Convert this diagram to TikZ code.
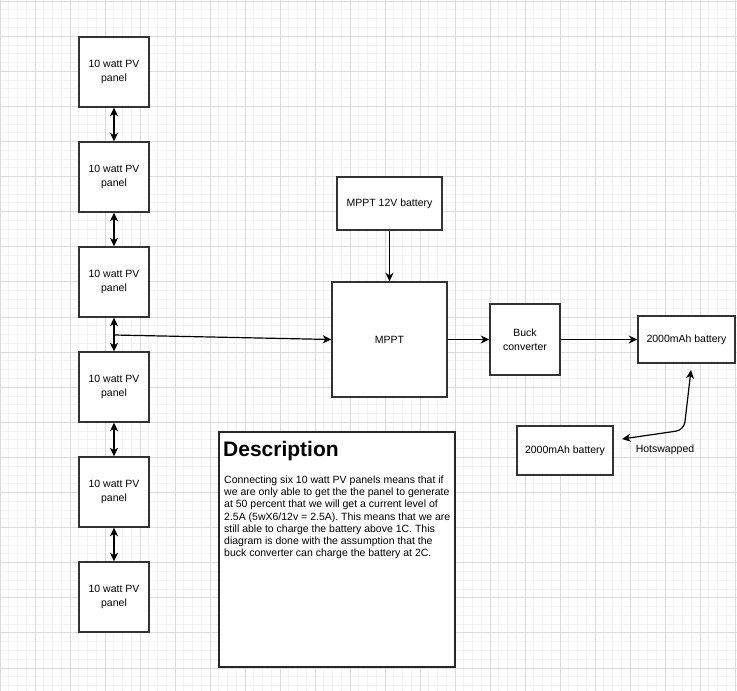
\documentclass[tikz,border=0pt]{standalone}
\usepackage{fontspec}
\setmainfont{Liberation Sans}
\usetikzlibrary{arrows.meta}
\definecolor{gridminor}{HTML}{F3F3F3}
\definecolor{gridmajor}{HTML}{DADADA}
\definecolor{edge}{HTML}{333333}
\begin{document}
\begin{tikzpicture}[x=1pt,y=-1pt,
  box/.style={draw=edge, line width=1.4pt, fill=white, inner sep=1pt, align=center,
    font=\fontsize{10.5}{13.5}\selectfont},
  tip/.tip={Stealth[length=8.5pt,width=8pt,inset=2.5pt]},
  link/.style={draw=black, line width=1.2pt, -tip},
  biline/.style={draw=black, line width=1.2pt, tip-tip},
  minorline/.style={draw=gridminor, line width=0.7pt},
  majorline/.style={draw=gridmajor, line width=0.7pt}]
\useasboundingbox (0,0) rectangle (737,691);
\fill[white] (0,0) rectangle (737,691);
% background grid
\foreach \i in {0,...,84} {\draw[minorline] (\i*8.75,0) -- (\i*8.75,691);}
\foreach \j in {0,...,78} {\draw[minorline] (0,1+\j*8.775) -- (737,1+\j*8.775);}
\foreach \i in {0,...,21} {\draw[majorline] (\i*35,0) -- (\i*35,691);}
\foreach \j in {0,...,19} {\draw[majorline] (0,1+\j*35.1) -- (737,1+\j*35.1);}

% solar panel column
\foreach \n/\y in {1/72,2/177,3/282,4/387,5/492,6/597}
  \node[box, minimum width=70pt, minimum height=70pt] (p\n) at (114,\y) {10 watt PV\\panel};

\node[box, minimum width=105pt, minimum height=53pt] (mppt12) at (389.5,203.5) {MPPT 12V battery};
\node[box, minimum width=115pt, minimum height=115pt] (mppt) at (389.5,339.5) {MPPT};
\node[box, minimum width=70pt, minimum height=71pt] (buck) at (525,339.5) {Buck\\converter};
\node[box, minimum width=97pt, minimum height=47pt] (bat) at (686.5,339.5) {2000mAh battery};
\node[box, minimum width=96pt, minimum height=49pt] (bat2) at (565,450.5) {2000mAh battery};
\node[font=\fontsize{10.5}{13.5}\selectfont, inner sep=0pt] (hs) at (665,450) {Hotswapped};

% description panel
\node[draw=black!85, line width=1.4pt, fill=white, minimum width=236pt, minimum height=235pt] (desc) at (337,549.5) {};
\node[anchor=base west, inner sep=0pt, font=\fontsize{21}{25}\selectfont\bfseries] (dtitle) at (223,456) {Description};
\node[anchor=north west, inner sep=0pt, align=left, font=\fontsize{10.5}{12.23}\selectfont] (dbody) at (224,475.6)
  {Connecting six 10 watt PV panels means that if\\
   we are only able to get the the panel to generate\\
   at 50 percent that we will get a current level of\\
   2.5A (5wX6/12v = 2.5A). This means that we are\\
   still able to charge the battery above 1C. This\\
   diagram is done with the assumption that the\\
   buck converter can charge the battery at 2C.};

% connectors
\foreach \a/\b in {1/2,2/3,3/4,4/5,5/6}
  \draw[biline] (p\a.south) -- (p\b.north);
\coordinate (tap) at (114,335);
\draw[link] (tap) -- (mppt.west);
\draw[link] (mppt12.south) -- (mppt.north);
\draw[link] (mppt.east) -- (buck.west);
\draw[link] (buck.east) -- (bat.west);
\coordinate (swapA) at (622,439);
\coordinate (swapB) at (691,370);
\draw[biline, rounded corners=8pt] (swapA) -- (684,430) -- (swapB);
\end{tikzpicture}
\end{document}
